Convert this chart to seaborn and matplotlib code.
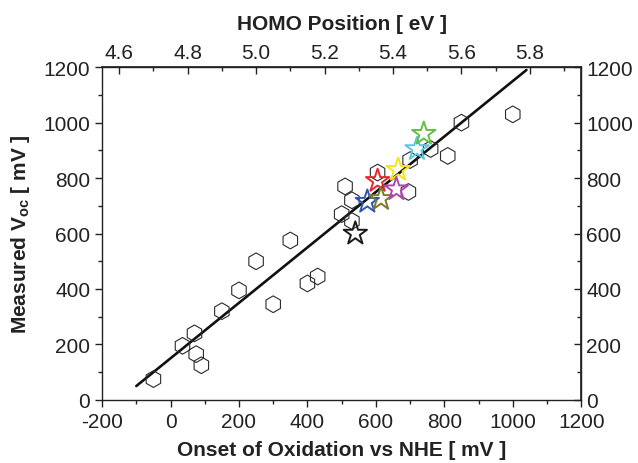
import matplotlib
matplotlib.use("Agg")
import matplotlib.pyplot as plt
import seaborn as sns
import pandas as pd
from matplotlib.ticker import MultipleLocator

# hexagon data: onset of oxidation vs NHE [mV], measured Voc [mV]
hex_onset = [-50, 35, 70, 75, 90, 150, 200, 250, 300, 350, 400, 430,
             500, 510, 530, 530, 605, 695, 700, 760, 810, 850, 1000]
hex_voc = [75, 195, 240, 165, 125, 320, 395, 500, 345, 575, 420, 445,
           670, 770, 720, 645, 820, 750, 865, 905, 880, 1000, 1030]

# star data (highlighted compounds)
star_onset = [540, 605, 575, 615, 665, 660, 720, 740]
star_voc = [600, 790, 715, 725, 830, 760, 905, 960]
star_colors = ["#1a1a1a", "#e8262c", "#2f55b0", "#7d7a2c",
               "#f3e51b", "#b246b0", "#5cc6e0", "#62bf45"]

# linear fit
fit_slope = 1.0
fit_intercept = 150
fit_range = [-100, 1040]

hex_df = pd.DataFrame({"onset": hex_onset, "voc": hex_voc})
star_df = pd.DataFrame({"onset": star_onset, "voc": star_voc})
fit_df = pd.DataFrame({"onset": fit_range,
                       "voc": [fit_slope * x + fit_intercept for x in fit_range]})

sns.set_theme(style="ticks")
plt.rcParams["font.family"] = ["Liberation Sans", "DejaVu Sans"]
plt.rcParams["mathtext.fontset"] = "custom"
plt.rcParams["mathtext.bf"] = "Liberation Sans:bold"
plt.rcParams["mathtext.rm"] = "Liberation Sans"
plt.rcParams["axes.unicode_minus"] = False

figure = plt.figure(figsize=(6.38, 4.64), dpi=100)
axis = figure.add_axes([0.160, 0.136, 0.751, 0.717])

sns.lineplot(data=fit_df, x="onset", y="voc", color="#111111", linewidth=1.9, ax=axis)

n_before = len(axis.collections)
sns.scatterplot(data=hex_df, x="onset", y="voc", marker="h", s=145,
                color="#2a2a2a", ax=axis, zorder=3)
for coll in axis.collections[n_before:]:
    coll.set_facecolor("none")
    coll.set_edgecolor("#2a2a2a")
    coll.set_linewidth(0.8)

n_before = len(axis.collections)
sns.scatterplot(data=star_df, x="onset", y="voc", marker="*", s=310,
                color="#1a1a1a", legend=False, ax=axis, zorder=4)
# open stars, each with its own edge colour
for coll in axis.collections[n_before:]:
    coll.set_facecolor("none")
    coll.set_edgecolor(star_colors)
    coll.set_linewidth(1.4)

axis.set_xlim(-200, 1200)
axis.set_ylim(0, 1200)
axis.xaxis.set_major_locator(MultipleLocator(200))
axis.xaxis.set_minor_locator(MultipleLocator(100))
axis.yaxis.set_major_locator(MultipleLocator(200))
axis.yaxis.set_minor_locator(MultipleLocator(100))

tick_font = 15
axis.tick_params(which="both", direction="out", width=1.0, labelsize=tick_font,
                 color="#222222", labelcolor="#222222")
axis.tick_params(which="major", length=5)
axis.tick_params(which="minor", length=3)
for spine in axis.spines.values():
    spine.set_visible(True)
    spine.set_linewidth(1.0)
    spine.set_color("#222222")

axis.set_xlabel("Onset of Oxidation vs NHE [ mV ]", fontsize=15, fontweight="bold",
                labelpad=7, color="#222222")
axis.set_ylabel(r"Measured V$_{\mathbf{oc}}$ [ mV ]", fontsize=15, fontweight="bold",
                labelpad=8, color="#222222")

top_axis = axis.secondary_xaxis("top", functions=(lambda x: x / 1000 + 4.75,
                                                  lambda e: (e - 4.75) * 1000))
top_axis.set_xticks([4.6, 4.8, 5.0, 5.2, 5.4, 5.6, 5.8])
top_axis.xaxis.set_minor_locator(MultipleLocator(0.1))
top_axis.set_xticklabels(["4.6", "4.8", "5.0", "5.2", "5.4", "5.6", "5.8"])
top_axis.tick_params(which="both", direction="in", width=1.0, labelsize=tick_font,
                     color="#222222", labelcolor="#222222")
top_axis.tick_params(which="major", length=5)
top_axis.tick_params(which="minor", length=3)
top_axis.set_xlabel("HOMO Position [ eV ]", fontsize=15, fontweight="bold",
                    labelpad=10, color="#222222")

right_axis = axis.secondary_yaxis("right")
right_axis.yaxis.set_major_locator(MultipleLocator(200))
right_axis.yaxis.set_minor_locator(MultipleLocator(100))
right_axis.tick_params(which="both", direction="in", width=1.0, labelsize=tick_font,
                       color="#222222", labelcolor="#222222")
right_axis.tick_params(which="major", length=5)
right_axis.tick_params(which="minor", length=3)

figure.savefig("out.png", dpi=100)
plt.close(figure)
